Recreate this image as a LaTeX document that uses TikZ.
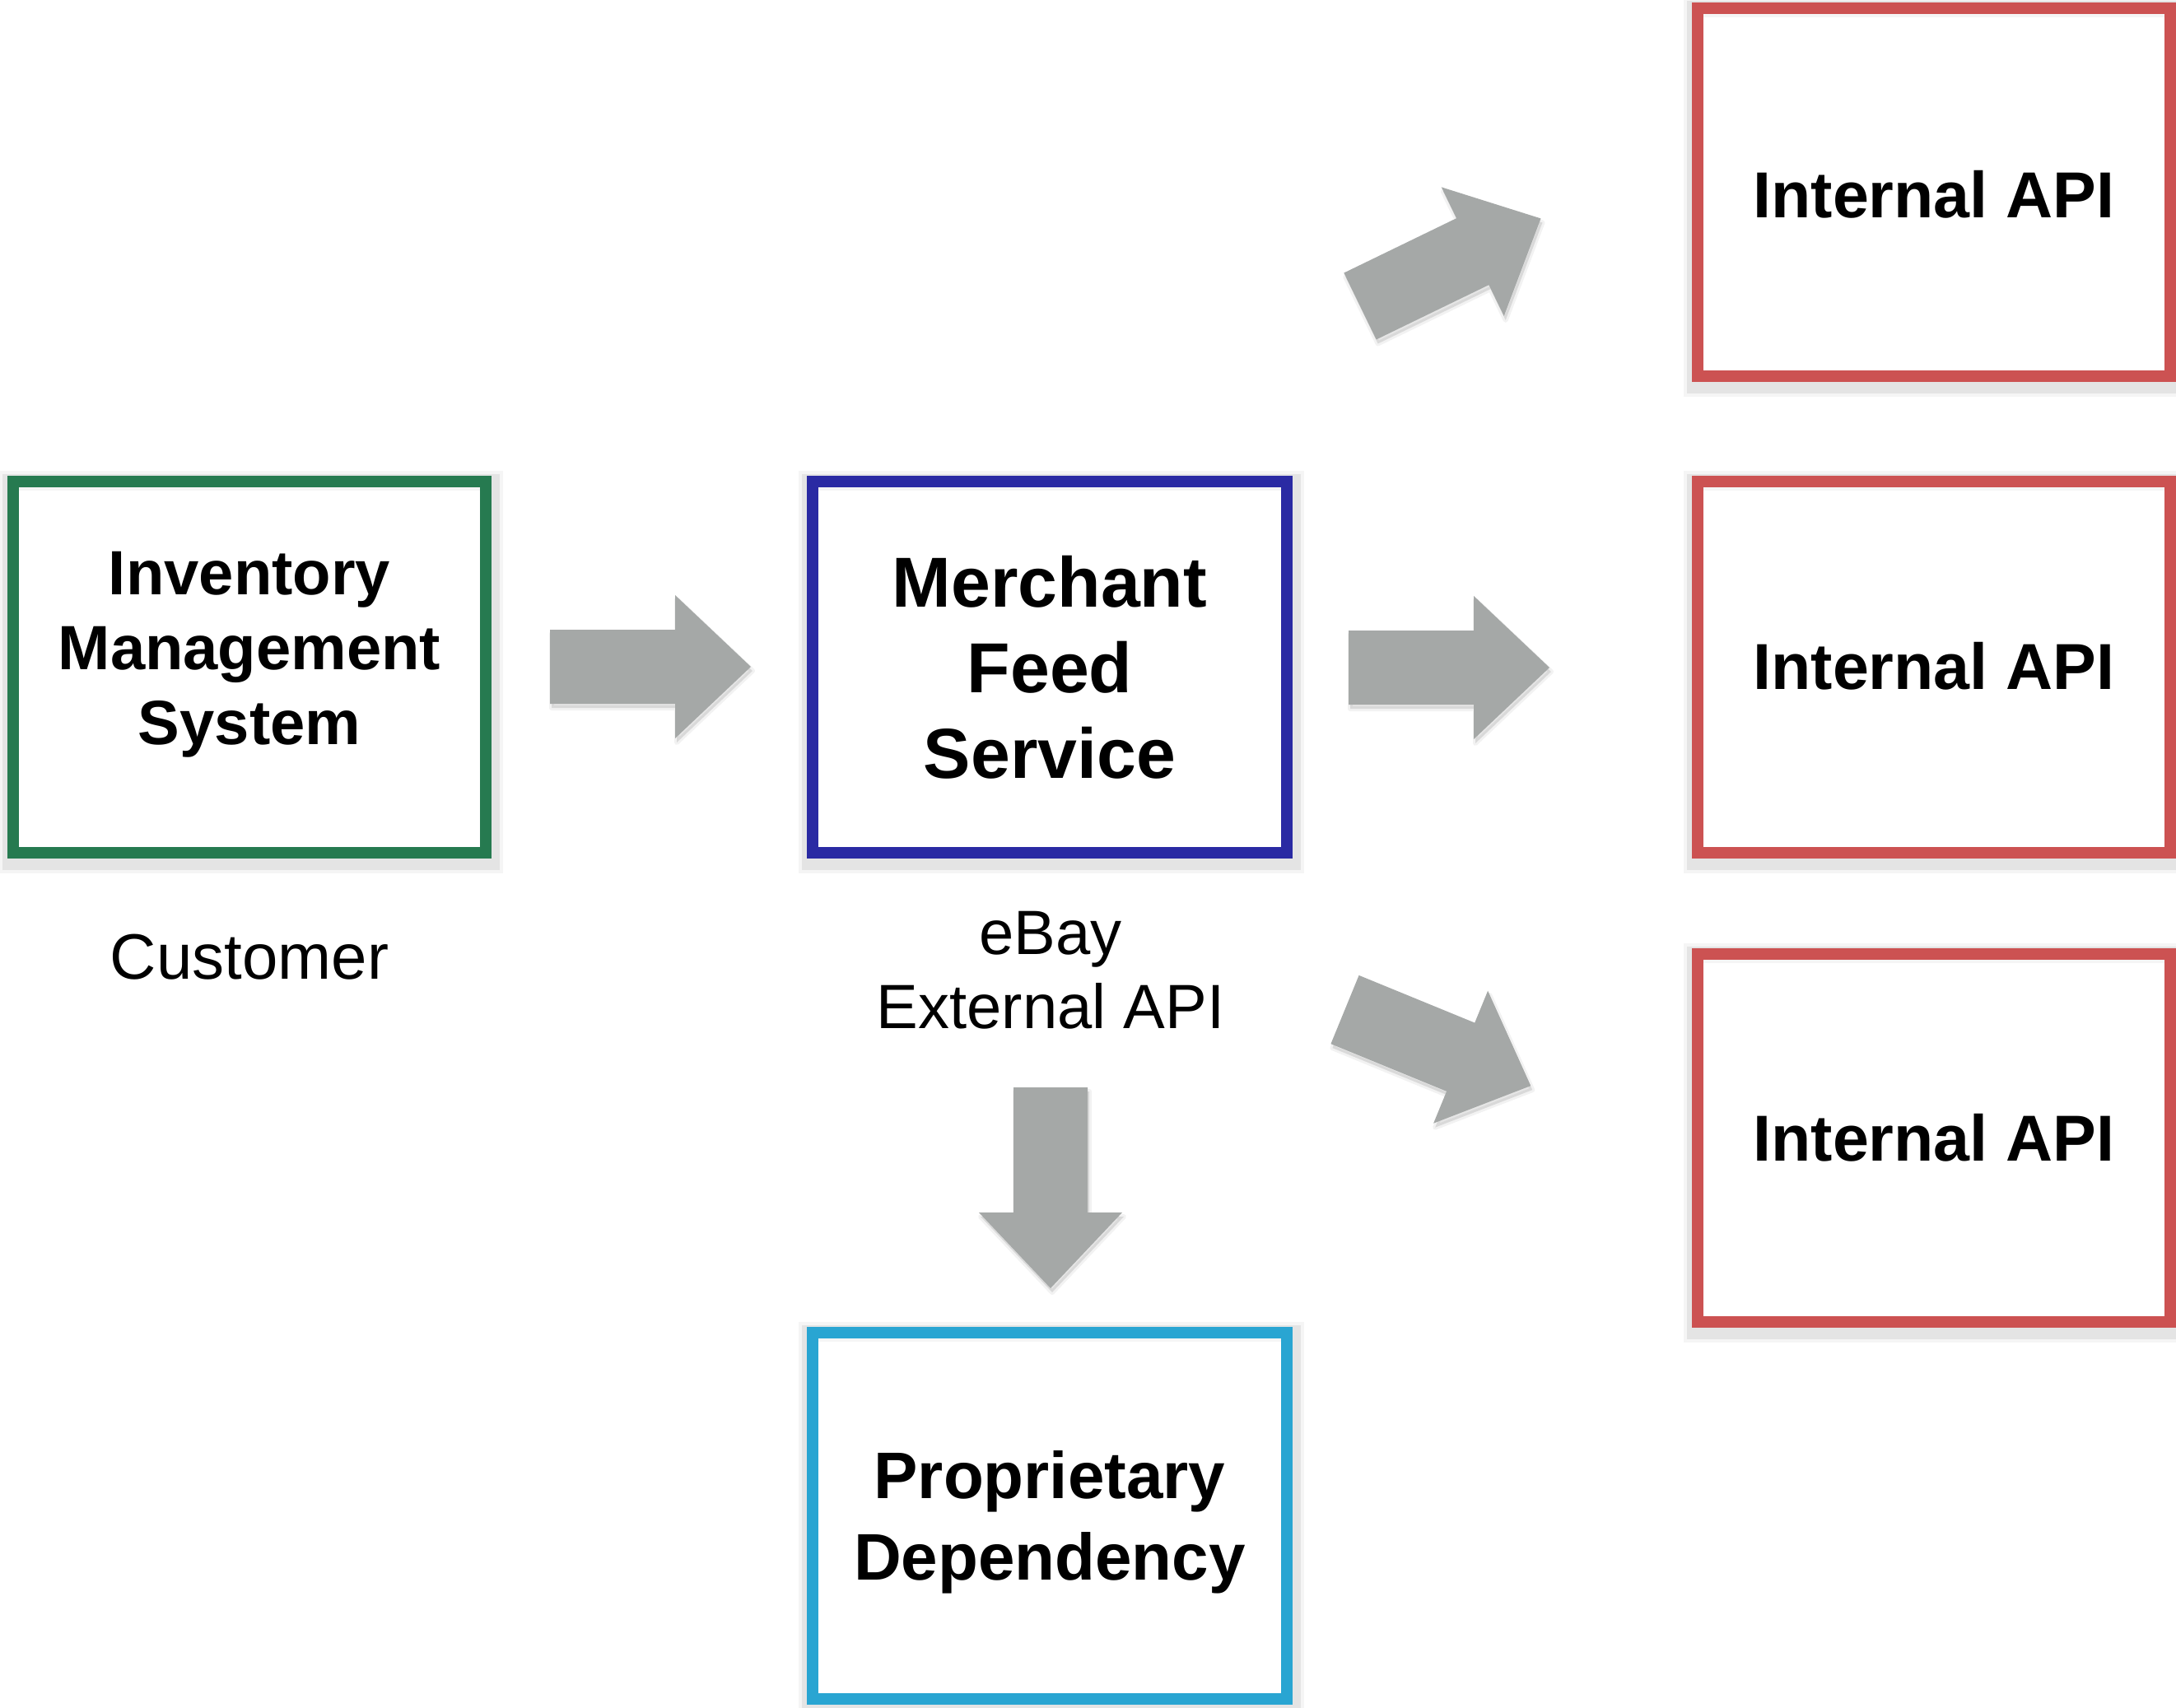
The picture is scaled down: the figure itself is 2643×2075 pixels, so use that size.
\documentclass[tikz,border=0pt]{standalone}
\usepackage{fontspec}
\setmainfont{Liberation Sans}
\usetikzlibrary{calc}

\definecolor{imsgreen}{HTML}{267A50}
\definecolor{mfsblue}{HTML}{2A2AA3}
\definecolor{apired}{HTML}{CC5252}
\definecolor{depcyan}{HTML}{29A5D2}
\definecolor{flowgray}{HTML}{A5A8A7}

\pgfdeclarelayer{shade}
\pgfsetlayers{shade,main}

% outline of a block arrow pointing along +x, tail midpoint at the origin
\newcommand{\arrowoutline}{(0,-45) -- (152,-45) -- (152,-87) -- (244,0) -- (152,87) -- (152,45) -- (0,45) -- cycle}

% block arrow with a soft shadow: tail midpoint, direction angle
\newcommand{\flowarrow}[2]{%
  \begin{pgfonlayer}{shade}
    \draw[black, opacity=.05, line width=6pt, line join=round, shift={(#1)}, xshift=2pt, yshift=-5pt, rotate=#2] \arrowoutline;
    \fill[black, opacity=.10, shift={(#1)}, xshift=2pt, yshift=-5pt, rotate=#2] \arrowoutline;
  \end{pgfonlayer}
  \fill[flowgray, shift={(#1)}, rotate=#2] \arrowoutline;}

% soft shadow behind the frame of a named box
\newcommand{\boxshade}[1]{%
  \begin{pgfonlayer}{shade}
    \draw[black, opacity=.04, line width=24pt]
      ([shift={(2,6)}]#1.north west) rectangle ([shift={(2,6)}]#1.south east);
    \draw[black, opacity=.07, line width=16pt]
      ([shift={(2,6)}]#1.north west) rectangle ([shift={(2,6)}]#1.south east);
  \end{pgfonlayer}}

\begin{document}
\begin{tikzpicture}[x=1pt, y=-1pt,
  sysbox/.style={draw=#1, line width=14pt, inner sep=0pt,
    minimum width=574pt, minimum height=451pt},
  boldtext/.style={font=\bfseries, align=center, inner sep=0pt},
  plaintext/.style={align=center, inner sep=0pt}]
\useasboundingbox (0,0) rectangle (2643,2075);

% system boxes
\node[sysbox=imsgreen] (ims) at (303,810.5) {};
\node[sysbox=mfsblue, minimum width=576pt] (mfs) at (1275,810.5) {};
\node[sysbox=apired, minimum height=447pt] (api1) at (2349,233) {};
\node[sysbox=apired] (api2) at (2349,810.5) {};
\node[sysbox=apired, minimum height=447pt] (api3) at (2349,1382) {};
\node[sysbox=depcyan, minimum width=576pt, minimum height=445pt] (dep) at (1275,1841.5) {};
\boxshade{ims}
\boxshade{mfs}
\boxshade{api1}
\boxshade{api2}
\boxshade{api3}
\boxshade{dep}

% box titles
\node[boldtext, font=\fontsize{76}{91}\selectfont\bfseries] (imstext) at ($(ims.center)+(0,-15)$) {Inventory\\Management\\System};
\node[boldtext, font=\fontsize{86}{104}\selectfont\bfseries] (mfstext) at (mfs.center) {Merchant\\Feed\\Service};
\node[boldtext, font=\fontsize{79}{95}\selectfont\bfseries] (api1text) at ($(api1.center)+(0,3)$) {Internal API};
\node[boldtext, font=\fontsize{79}{95}\selectfont\bfseries] (api2text) at ($(api2.center)+(0,-1)$) {Internal API};
\node[boldtext, font=\fontsize{79}{95}\selectfont\bfseries] (api3text) at (api3.center) {Internal API};
\node[boldtext, font=\fontsize{80}{99}\selectfont\bfseries] (deptext) at ($(dep.center)+(0,8)$) {Proprietary\\Dependency};

% owner captions
\node[plaintext, font=\fontsize{78}{94}\selectfont] (customer) at (303,1163) {Customer};
\node[plaintext, font=\fontsize{76}{90}\selectfont] (ebay) at (1276,1179) {eBay\\External API};

% data flow arrows
\coordinate (f1) at (668,810);
\coordinate (f2) at (1638,811);
\coordinate (f3) at (1652,372);
\coordinate (f4) at (1633.5,1226.5);
\coordinate (f5) at (1276,1321);
\flowarrow{f1}{0}
\flowarrow{f2}{0}
\flowarrow{f3}{25.9}
\flowarrow{f4}{-22.3}
\flowarrow{f5}{-90}
\end{tikzpicture}
\end{document}
